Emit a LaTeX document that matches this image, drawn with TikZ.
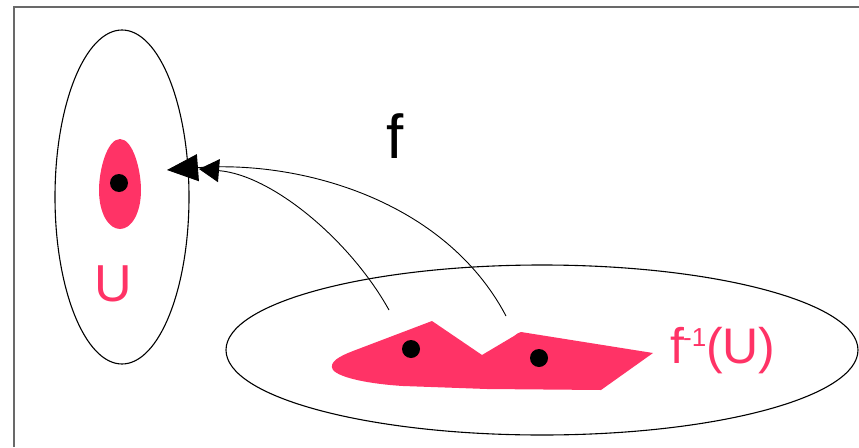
\documentclass[tikz,border=0pt]{standalone}
\usepackage{fontspec}
\setmainfont{Liberation Sans}
\usetikzlibrary{arrows.meta}
\definecolor{pk}{RGB}{255,51,102}
\definecolor{framegray}{RGB}{105,105,105}
\tikzset{
  outline/.style={draw=black, line width=1.1pt},
  mapline/.style={draw=black, line width=0.9pt},
  pt/.style={fill=black},
  region/.style={fill=pk},
  bighead/.tip={Triangle[length=31pt 0, width=27pt 0]},
  smallhead/.tip={Triangle[length=20pt 0, width=23pt 0]},
}
\begin{document}
\begin{tikzpicture}[x=1pt,y=-1pt]
\useasboundingbox (0,0) rectangle (859,447);
% frame
\draw[framegray, line width=2pt] (14,447) -- (14,7) -- (859,7);
% sets
\draw[outline] (122,197) ellipse [x radius=67pt, y radius=167pt];
\draw[outline] (542,350) ellipse [x radius=316pt, y radius=85pt];
% U region
\fill[region] (120,139) .. controls (133,139) and (141,170) .. (141,190)
  .. controls (141,214) and (131,229) .. (120,229)
  .. controls (109,229) and (99,214) .. (99,190)
  .. controls (99,170) and (107,139) .. (120,139) -- cycle;
% preimage region
\fill[region] (353,351) -- (432,321) -- (482,355) -- (514,336)
  .. controls (517,334) and (519,332) .. (521,332)
  -- (653,353) -- (601,390) -- (487,389)
  -- (403,386) .. controls (370,384) and (340,378) .. (333,370)
  .. controls (328,362) and (340,356) .. (353,351) -- cycle;
% points
\fill[pt] (119,183) circle (9pt);
\fill[pt] (411,349) circle (9pt);
\fill[pt] (539,358) circle (9pt);
% map arrows
\coordinate (s1) at (506,316);
\coordinate (t1) at (167,170);
\coordinate (s2) at (389,310);
\coordinate (t2) at (199,169);
\draw[mapline, -bighead] (s1) .. controls (445,200) and (300,160) .. (t1);
\draw[mapline, -smallhead] (s2) .. controls (350,240) and (272,175) .. (t2);
% labels
\node[anchor=base, inner sep=0pt, font=\fontsize{62}{62}\selectfont] (flab) at (395,158) {f};
\node[anchor=base, inner sep=0pt, text=pk, font=\fontsize{52}{52}\selectfont] (ulab) at (113,301) {U};
\node[anchor=base west, inner sep=0pt, text=pk, font=\fontsize{50}{50}\selectfont] (pre) at (670,363)
  {f\kern-1pt\raisebox{17pt}{\fontsize{26}{26}\selectfont -1}(U)};
\end{tikzpicture}
\end{document}
